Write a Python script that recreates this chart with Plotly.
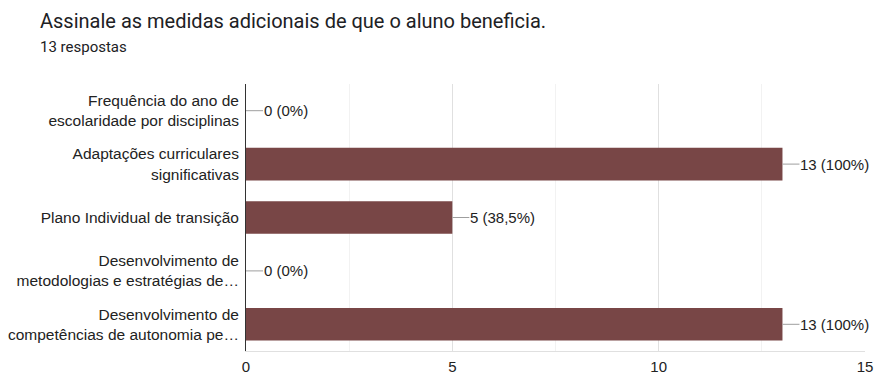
import plotly.graph_objects as go

# Survey answers (Google Forms checkbox question)
question = "Assinale as medidas adicionais de que o aluno beneficia."
total_responses = 13
categories = [
    "Frequência do ano de<br>escolaridade por disciplinas",
    "Adaptações curriculares<br>significativas",
    "Plano Individual de transição",
    "Desenvolvimento de<br>metodologias e estratégias de…",
    "Desenvolvimento de<br>competências de autonomia pe…",
]
counts = [0, 13, 5, 0, 13]
percent_labels = ["0%", "100%", "38,5%", "0%", "100%"]
x_ticks = [0, 5, 10, 15]
x_minor = [2.5, 7.5, 12.5]

bar_color = "#784646"
text_color = "#222222"
label_font = "Liberation Sans, Arial"

W, H = 876, 374
ML, MR, MT, MB = 246, 11, 84, 23

fig = go.Figure()
fig.add_trace(go.Bar(
    y=categories,
    x=counts,
    orientation="h",
    marker=dict(color=bar_color, line=dict(width=0)),
    width=0.61,
    hoverinfo="skip",
))

# value labels with a short grey leader line from the bar end
for cat, val, pct in zip(categories, counts, percent_labels):
    fig.add_annotation(
        x=val, y=cat, xref="x", yref="y",
        text=f"{val} ({pct})",
        showarrow=True, arrowhead=0, arrowwidth=1, arrowcolor="#9e9e9e",
        ax=17, ay=0, xanchor="left", standoff=0,
        font=dict(family=label_font, size=15, color=text_color),
        borderpad=0,
    )

# question title and response count, placed relative to the plot area
plot_w = W - ML - MR
plot_h = H - MT - MB
fig.add_annotation(
    x=(38 - ML) / plot_w, y=1 + (MT - 21) / plot_h,
    xref="paper", yref="paper", xanchor="left", yanchor="middle",
    text=question, showarrow=False,
    font=dict(family="Roboto", size=20, color="#202124"),
)
fig.add_annotation(
    x=(38 - ML) / plot_w, y=1 + (MT - 47) / plot_h,
    xref="paper", yref="paper", xanchor="left", yanchor="middle",
    text=f"{total_responses} respostas", showarrow=False,
    font=dict(family="Roboto", size=15, color="#202124"),
)

fig.update_layout(
    width=W, height=H,
    margin=dict(l=ML, r=MR, t=MT, b=MB, autoexpand=False),
    paper_bgcolor="white", plot_bgcolor="white",
    showlegend=False,
    xaxis=dict(
        range=[0, 15], tickvals=x_ticks, ticktext=[str(t) for t in x_ticks],
        showgrid=True, gridcolor="#e0e0e0", gridwidth=1,
        minor=dict(tickvals=x_minor, showgrid=True, gridcolor="#f2f2f2", gridwidth=1),
        showline=True, linecolor="#e0e0e0", linewidth=1,
        zeroline=False, ticks="", fixedrange=True, automargin=False,
        ticklabelstandoff=2,
        tickfont=dict(family=label_font, size=15, color=text_color),
    ),
    yaxis=dict(
        autorange="reversed", showline=True, linecolor="#333333", linewidth=1,
        showgrid=False, zeroline=False, ticks="", ticklabelstandoff=3,
        tickfont=dict(family=label_font, size=15.5, color=text_color),
        automargin=False,
    ),
)

fig.write_html("out.html")
